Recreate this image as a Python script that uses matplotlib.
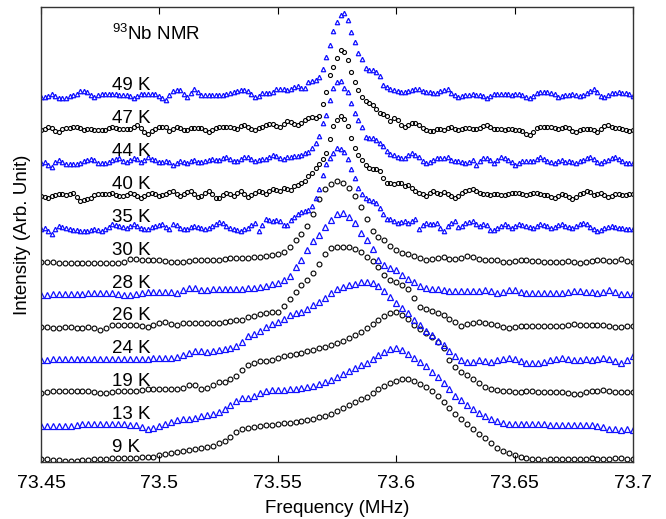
import numpy as np
import matplotlib.pyplot as plt

plt.rcParams['font.family'] = ['Liberation Sans', 'DejaVu Sans']
plt.rcParams['mathtext.fontset'] = 'custom'
plt.rcParams['mathtext.rm'] = 'Liberation Sans'

# temperature labels, bottom to top
temps = ['9 K', '13 K', '19 K', '24 K', '26 K', '28 K', '30 K',
         '35 K', '40 K', '44 K', '47 K', '49 K']

# spectra (arb. units), evenly spaced in frequency from 73.45 to 73.70 MHz
spec_9K = [0, 0, -1, -1, -2, -2, -2, -1, -1, 0, 0, 0, 1, 1, 1, 1, 1, 2, 2, 2,
           4, 5, 6, 7, 8, 9, 10, 11, 12, 13, 16, 18, 22, 27, 30, 31, 32, 33, 34, 34,
           35, 36, 36, 37, 38, 39, 40, 42, 43, 45, 48, 51, 54, 57, 60, 62, 66, 70, 73, 76,
           78, 80, 80, 78, 75, 72, 68, 63, 57, 51, 45, 40, 35, 30, 25, 21, 16, 11, 8, 6,
           4, 2, 1, 0, 0, -1, 0, 0, 0, 0, 0, 0, 0, 1, 0, 0, 0, 1, 1, 0, 0]
spec_13K = [0, 0, 0, 0, 0, 0, 1, 2, 2, 2, 2, 2, 2, 2, 2, 1, 1, -1, -3, -2,
            0, 2, 4, 6, 7, 7, 8, 10, 11, 12, 14, 17, 21, 25, 28, 28, 30, 33, 35, 36,
            36, 36, 37, 37, 38, 39, 40, 42, 44, 46, 49, 52, 55, 58, 61, 63, 67, 71, 74, 77,
            78, 76, 72, 68, 64, 60, 54, 49, 43, 37, 30, 26, 21, 17, 13, 10, 7, 5, 3, 2,
            2, 2, 2, 2, 2, 2, 1, 1, 1, 1, 1, 1, 1, 1, 0, -1, -3, -3, -4, -3, -4]
spec_19K = [0, 1, 2, 2, 2, 2, 2, 2, 2, 1, 0, 0, 1, 2, 2, 2, 2, 3, 4, 4,
            4, 4, 4, 4, 5, 8, 8, 4, 5, 8, 11, 11, 14, 17, 23, 28, 30, 32, 32, 33,
            35, 37, 38, 39, 40, 42, 43, 45, 46, 48, 50, 52, 55, 58, 61, 65, 69, 73, 77, 80,
            81, 78, 74, 68, 64, 60, 56, 51, 45, 33, 26, 21, 18, 14, 10, 6, 4, 3, 2, 2,
            1, 1, 2, 2, 1, 1, 1, 1, 1, 0, -1, -1, 1, 2, 2, 3, 2, 1, 1, 1, 1]
spec_24K = [0, 0, 1, 1, 1, 1, 1, 1, 1, 1, 1, 1, 1, 1, 1, 1, 1, 1, 1, 2,
            2, 2, 2, 3, 5, 7, 9, 9, 8, 9, 10, 11, 12, 14, 18, 24, 26, 29, 33, 36,
            38, 41, 45, 47, 48, 51, 55, 58, 62, 67, 71, 73, 75, 76, 78, 78, 77, 74, 69, 63,
            57, 52, 47, 40, 35, 29, 25, 19, 15, 9, 4, 0, -2, -2, 0, -1, -2, 0, 1, 2,
            1, -1, -3, -3, -3, -2, 0, 1, 2, 1, 0, 0, 1, 0, 1, 2, 1, -1, -3, 0, 4]
spec_26K = [0, 0, -1, -1, 0, 0, -1, -1, 0, -1, -3, -1, 2, 2, 2, 2, 2, 1, 0, 2,
            4, 5, 3, 2, 4, 4, 4, 4, 4, 4, 4, 5, 6, 7, 7, 10, 11, 13, 14, 15,
            15, 21, 28, 35, 42, 47, 54, 63, 73, 79, 80, 80, 80, 78, 75, 70, 66, 60, 52, 47,
            45, 42, 38, 29, 20, 18, 16, 14, 12, 8, 5, 1, 3, 4, 5, 4, 3, 2, 0, -1,
            0, 1, 1, 1, 1, 1, 1, 1, 1, 2, 3, 2, 2, 2, 2, 2, 1, 0, 0, 1, 1]
spec_28K = [0, 0, 1, 1, 1, 1, 1, 1, 2, 2, 2, 2, 2, 1, 0, 0, 1, 2, 3, 3,
            3, 3, 3, 2, 5, 7, 7, 5, 5, 6, 6, 6, 6, 6, 6, 7, 7, 8, 9, 11,
            12, 15, 19, 28, 35, 45, 54, 60, 68, 75, 81, 82, 78, 72, 62, 55, 46, 35, 30, 27,
            25, 20, 16, 13, 9, 7, 6, 6, 5, 4, 4, 4, 4, 4, 4, 5, 4, 2, 3, 5,
            5, 3, 2, 2, 2, 2, 2, 2, 2, 3, 4, 4, 3, 3, 2, 3, 5, 3, 1, 1, 1]
spec_30K = [0, 0, 0, -1, -1, -1, -1, -1, -1, -1, -1, -1, -1, -1, 0, 3, 3, 2, 2, 2,
            2, 1, 0, 0, 0, 1, 2, 2, 2, 2, 2, 3, 4, 4, 4, 4, 5, 5, 6, 7,
            8, 10, 15, 22, 28, 36, 48, 63, 73, 78, 81, 79, 74, 66, 55, 43, 31, 25, 22, 16,
            12, 9, 8, 6, 4, 2, 3, 4, 5, 3, 3, 4, 6, 5, 3, 2, 2, 2, 0, 0,
            1, 2, 2, 1, 1, 0, 0, 0, 0, 1, 0, -1, 0, 1, 2, 2, 1, 1, 3, 1, 0]
spec_35K = [0, 1, -2, -5, 0, 3, 2, 1, 0, -1, -1, -2, -2, -2, -1, 0, -1, -2, 0, 2,
            5, 4, 3, 2, 1, 3, 5, 3, 1, 0, 0, 2, 3, 4, 5, 2, 0, 5, 4, 1,
            0, 0, 2, 3, 2, 1, 0, 1, 3, 5, 7, 6, 3, 1, 0, -1, -2, 0, 1, 4,
            6, -2, 4, 10, 9, 8, 9, 8, 4, 4, 9, 12, 15, 17, 18, 19, 23, 31, 40, 54,
            65, 71, 76, 81, 80, 77, 70, 60, 51, 41, 35, 31, 29, 28, 26, 21, 15, 10, 10, 8,
            6, 7, 8, 6, 8, 10, 0, 4, 6, 5, 5, 6, 1, -2, 3, 6, 8, 2, 3, 6,
            7, 8, 5, 3, 5, 4, -1, -1, 1, 3, 5, 3, 1, 3, 5, 4, 3, 2, 1, 3,
            5, 4, 3, 1, 2, 4, 5, 3, 2, 1, 3, 5, 6, 5, 2, 0, -2, -1, 1, 2,
            3, 2, 1, 1, 0, 0, 0]
spec_40K = [0, -1, -2, 0, 1, 2, 2, 1, 2, 3, -1, -5, -4, -3, -2, 1, 2, 2, 2, 2,
            3, 1, 0, 0, 1, 3, 2, 0, -2, 0, 2, 3, 2, 0, 1, 2, 4, 5, 2, 0,
            2, 4, 5, 2, -1, 0, 3, 5, 2, -2, -2, 1, 3, 2, 0, 3, 5, 2, -1, 1,
            3, 5, 4, 2, 5, 7, 6, 5, 8, 7, 6, 10, 11, 13, 15, 20, 23, 28, 32, 37,
            43, 57, 70, 76, 80, 77, 70, 58, 48, 41, 36, 31, 28, 27, 27, 25, 18, 13, 13, 12,
            13, 13, 10, 11, 8, 5, 3, 2, 0, 3, 5, 3, 2, 4, 2, 0, -2, 0, 3, 5,
            6, 7, 5, 3, 2, 2, 1, 2, 2, 1, 1, 2, 3, 3, 3, 2, 1, 2, 3, 3,
            2, 1, 1, -1, -2, 0, 2, 1, -1, -3, -1, 2, 3, 5, 4, 1, 2, 3, 1, -1,
            0, 2, 2, 1, 1, 2, 2]
spec_44K = [0, 1, -2, -4, 1, 3, 1, -1, -1, -1, -1, 0, 2, 3, 4, 3, 0, 0, 0, 1,
            3, 4, 5, 2, 1, 3, 5, 4, 1, 3, 6, 4, 3, 1, 1, 2, 1, -2, 0, 2,
            1, 0, 2, 3, 1, 1, 2, 3, 4, 3, 3, 5, 6, 4, 2, 2, 4, 6, 6, 4,
            2, 3, 4, 4, 6, 8, 7, 5, 4, 6, 6, 7, 7, 8, 10, 11, 15, 20, 27, 40,
            48, 63, 75, 81, 82, 75, 71, 60, 50, 43, 36, 26, 25, 25, 23, 20, 17, 12, 9, 8,
            6, 5, 5, 8, 10, 8, 6, 2, 0, 1, 3, 5, 5, 5, 6, 3, 2, 2, 1, 0,
            1, 3, -2, 2, 5, 5, 3, 0, 3, 6, 5, 3, 1, -2, 0, 2, 2, 2, 2, 4,
            6, 4, 2, 1, 0, 2, 3, 1, 2, 1, 0, 2, 3, 5, 6, 4, 1, 0, 2, 3,
            5, 6, 4, 2, 0, 0, 0]
spec_47K = [0, 1, 3, 2, -1, -2, 1, 2, 2, 3, 3, 2, 0, 1, 1, 0, 0, 0, 0, 2,
            3, 2, 1, 1, 1, 1, 3, 5, 2, -2, -4, -1, 1, 3, 3, 3, -1, 1, 3, 2,
            0, 0, 2, 2, 2, 2, 0, -2, 0, 2, 3, 3, 3, 3, 2, 1, 4, 5, 3, 1,
            0, 2, 3, 5, 6, 6, 4, 3, 6, 9, 8, 6, 5, 7, 10, 12, 13, 12, 14, 26,
            38, 55, 63, 72, 80, 78, 70, 58, 48, 40, 33, 29, 27, 25, 21, 17, 16, 14, 9, 12,
            10, 5, 3, 5, 7, 7, 5, 2, 0, -1, -1, 1, 1, 0, 2, 3, 1, 0, 1, 2,
            2, 1, 1, 2, 4, 5, 3, 1, 1, 1, 0, 1, 1, 0, 0, -1, -4, -5, -2, 2,
            3, 3, 3, 3, 2, 1, 2, 3, 2, -1, -2, 0, 1, 1, 1, 0, -2, 1, 4, 5,
            3, 2, 2, 1, 0, -1, 0]
spec_49K = [0, 0, 1, 3, 1, -1, -1, -1, 1, 2, 3, 6, 6, 5, 2, 0, 2, 3, 3, 3,
            3, 3, 2, 2, 2, 1, -1, 1, 3, 3, 3, 3, 3, 1, -1, -3, 2, 6, 7, 7,
            3, 0, 4, 8, 5, 2, 2, 2, 2, 2, 2, 2, 3, 4, 5, 6, 7, 7, 6, 3,
            0, 1, 4, 4, 4, 5, 8, 8, 8, 7, 8, 10, 11, 9, 9, 15, 16, 17, 20, 28,
            40, 52, 66, 75, 82, 84, 77, 65, 55, 44, 38, 29, 27, 27, 25, 21, 12, 10, 8, 7,
            6, 5, 5, 6, 7, 8, 8, 6, 5, 5, 4, 4, 6, 7, 8, 4, 2, 0, 1, 2,
            2, 3, 2, 2, 1, -1, 1, 3, 3, 3, 3, 3, 2, 3, 3, 2, 0, -1, 1, 4,
            5, 5, 5, 4, 3, 0, 1, 2, 2, 3, 2, 1, 2, 4, 6, 8, 5, 1, 0, 2,
            4, 4, 5, 4, 4, 3, 1]

spectra = [spec_9K, spec_13K, spec_19K, spec_24K, spec_26K, spec_28K,
           spec_30K, spec_35K, spec_40K, spec_44K, spec_47K, spec_49K]

step = 32.9

fig = plt.figure(figsize=(6.66, 5.19), dpi=100)
ax = fig.add_axes([41 / 666, 57 / 519, 592 / 666, 455 / 519])

for i, (lab, vals) in enumerate(zip(temps, spectra)):
    vals = np.array(vals, dtype=float)
    freq = np.linspace(73.45, 73.70, len(vals))
    base = i * step
    noisy = len(vals) > 120
    if i % 2 == 0:
        ax.plot(freq, vals + base, 'o', mfc='none', mec='black',
                ms=2.9 if noisy else 3.5, mew=0.8, ls='none')
    else:
        ax.plot(freq, vals + base, '^', mfc='none', mec='#1010ff',
                ms=3.2 if noisy else 3.8, mew=0.9, ls='none')
    ax.text(73.48, base + 7, lab, fontsize=13.5, va='baseline', ha='left')

ax.text(73.48, 419, r'$^{\mathrm{93}}$Nb NMR', fontsize=13.5, va='baseline')

ax.set_xlim(73.45, 73.70)
ax.set_ylim(-3, 452)
ticks = [73.45, 73.5, 73.55, 73.6, 73.65, 73.7]
ax.set_xticks(ticks)
ax.set_xticklabels(['73.45', '73.5', '73.55', '73.6', '73.65', '73.7'])
ax.set_yticks([])
ax.tick_params(axis='x', direction='in', top=True, length=5, width=0.8,
               labelsize=14, pad=9)
for s in ax.spines.values():
    s.set_linewidth(1.0)
    s.set_color('#333333')

ax.set_xlabel('Frequency (MHz)', fontsize=13.5, labelpad=6)
ax.set_ylabel('Intensity (Arb. Unit)', fontsize=13.5, labelpad=7)

fig.savefig('out.png', dpi=100)
